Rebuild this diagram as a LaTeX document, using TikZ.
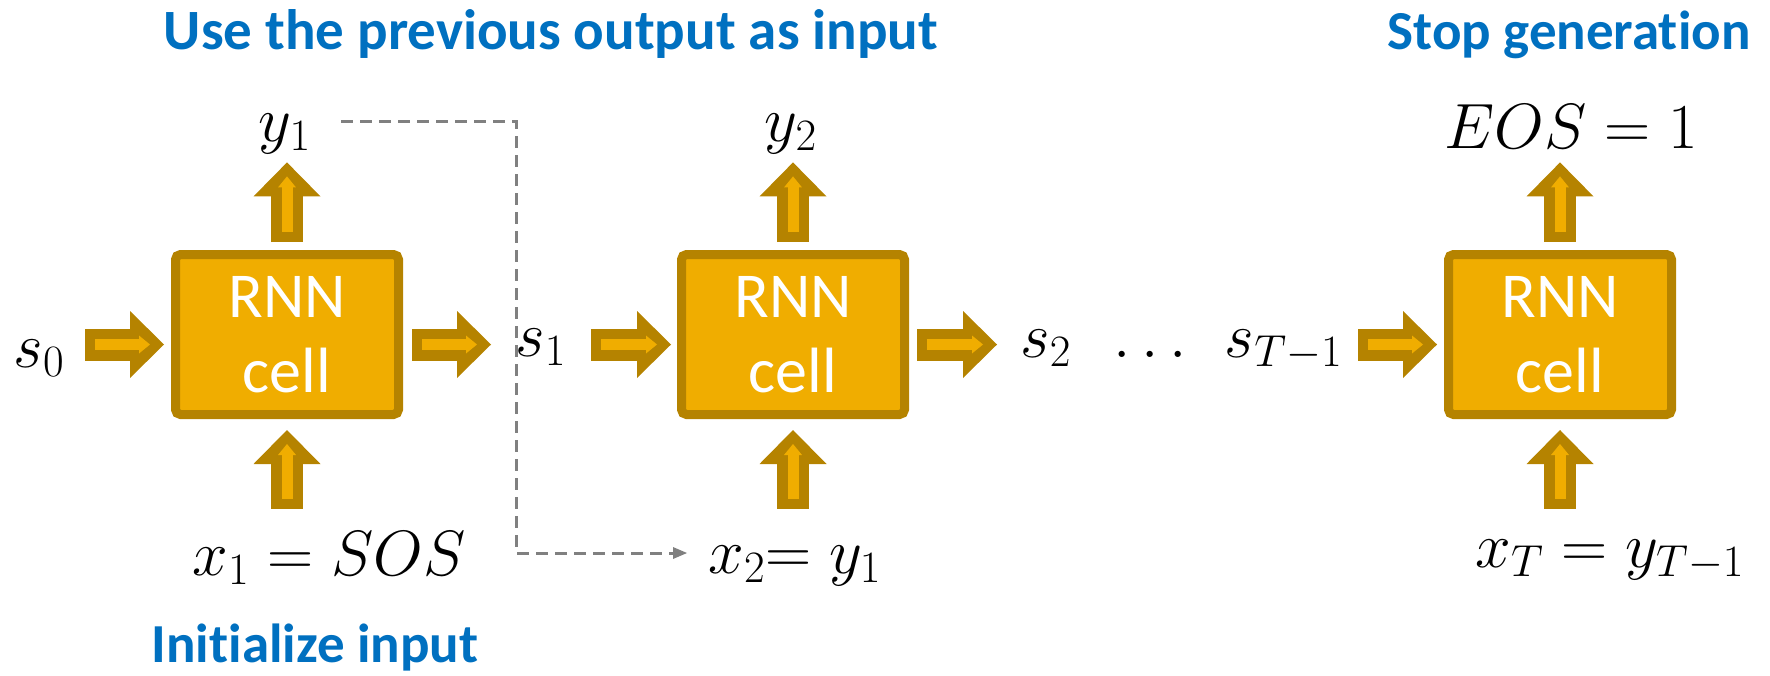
\RequirePackage{fix-cm}
\documentclass[tikz,border=0pt]{standalone}
\usepackage[no-math]{fontspec}
\newfontfamily\carlito{Carlito}[Ligatures=NoCommon]
\usetikzlibrary{arrows.meta}
\definecolor{cellfill}{HTML}{F0AD00}
\definecolor{cellline}{HTML}{B58300}
\definecolor{noteblue}{HTML}{0070C0}
\definecolor{dashgray}{HTML}{808080}
\begin{document}
\begin{tikzpicture}[x=0.5pt, y=-0.5pt]
        \tikzstyle{cell}=[rectangle, draw=cellline, fill=cellfill, line width=4.5pt, rounded corners=2.5pt,
            minimum width=111.5pt, minimum height=80pt, inner sep=0pt, align=center,
            text=white, font=\carlito\fontsize{32}{37.5}\selectfont]
        \tikzstyle{var}=[inner sep=0pt, text height=24pt, text depth=4pt, font=\fontsize{32}{38}\selectfont]
        \tikzstyle{note}=[inner sep=0pt, text=noteblue, font=\carlito\bfseries\fontsize{27.5}{33}\selectfont]
        \tikzstyle{fatout}=[draw=cellline, line width=16pt, -{Triangle[width=33.5pt, length=17pt, line width=0pt]}]
        \tikzstyle{fatin}=[draw=cellfill, line width=5.5pt, -{Triangle[width=9pt, length=5.5pt, line width=0pt]}]
        \tikzstyle{feedback}=[draw=dashgray, line width=1.5pt, dash pattern=on 6pt off 3.5pt,
            -{Triangle[width=6pt, length=7pt, line width=0pt]}]

        \useasboundingbox (0,0) rectangle (1770,675);

        % cells
        \node[cell] (cell1) at (287,334.5) {RNN\\cell};
        \node[cell] (cell2) at (793,334.5) {RNN\\cell};
        \node[cell] (cell3) at (1560,334.5) {RNN\\cell};

        % states, inputs and outputs
        \node[var, anchor=base east] (s0) at (65,367) {$s_0$};
        \node[var, anchor=base west] (s1) at (515,356) {$s_1$};
        \node[var, anchor=base west] (s2) at (1020,357) {$s_2$};
        \node[var, anchor=base] (dots) at (1150,357) {$\ldots$};
        \node[var, anchor=base east] (sT) at (1343,357) {$s_{T-1}$};
        \node[var, anchor=base] (y1) at (285,141) {$y_1$};
        \node[var, anchor=base] (y2) at (791,141) {$y_2$};
        \node[var, anchor=base] (eos) at (1571,148) {$EOS = 1$};
        \node[var, anchor=base] (x1) at (329,575) {$x_1 = SOS$};
        \node[var, anchor=base west] (x2) at (708,573) {$x_2{=}\;y_1$};
        \node[var, anchor=base] (xT) at (1610,567) {$x_T = y_{T-1}$};

        % notes
        \node[note, anchor=base, font=\carlito\bfseries\fontsize{28.5}{33}\selectfont] (prev) at (551,49) {Use the previous output as input};
        \node[note, anchor=base] (stop) at (1569,49) {Stop generation};
        \node[note, anchor=base] (init) at (315,662) {Initialize input};

        \coordinate (in1) at ([yshift=-5pt]cell1.west);
        \coordinate (out1) at ([yshift=-5pt]cell1.east);
        \coordinate (in2) at ([yshift=-5pt]cell2.west);
        \coordinate (out2) at ([yshift=-5pt]cell2.east);
        \coordinate (in3) at ([yshift=-5pt]cell3.west);
        \coordinate (bend) at (516,0);

        % state arrows
        \draw[fatout, shorten <=10pt, shorten >=3.5pt] (s0.east |- in1) -- (in1);
        \draw[fatin, shorten <=15pt, shorten >=10.5pt] (s0.east |- in1) -- (in1);
        \draw[fatout, shorten <=4.5pt, shorten >=12pt] (out1) -- (out1 -| s1.west);
        \draw[fatin, shorten <=9.5pt, shorten >=19pt] (out1) -- (out1 -| s1.west);
        \draw[fatout, shorten <=12pt, shorten >=3pt] (s1.east |- in2) -- (in2);
        \draw[fatin, shorten <=17pt, shorten >=10pt] (s1.east |- in2) -- (in2);
        \draw[fatout, shorten <=4pt, shorten >=11.5pt] (out2) -- (out2 -| s2.west);
        \draw[fatin, shorten <=9pt, shorten >=18.5pt] (out2) -- (out2 -| s2.west);
        \draw[fatout, shorten <=7.5pt, shorten >=3.5pt] (sT.east |- in3) -- (in3);
        \draw[fatin, shorten <=12.5pt, shorten >=10.5pt] (sT.east |- in3) -- (in3);

        % output arrows
        \draw[fatout, shorten <=4pt, shorten >=6.5pt] (cell1.north) -- (cell1.north |- y1.south);
        \draw[fatin, shorten <=9pt, shorten >=13.5pt] (cell1.north) -- (cell1.north |- y1.south);
        \draw[fatout, shorten <=4pt, shorten >=6.5pt] (cell2.north) -- (cell2.north |- y2.south);
        \draw[fatin, shorten <=9pt, shorten >=13.5pt] (cell2.north) -- (cell2.north |- y2.south);
        \draw[fatout, shorten <=4pt, shorten >=3pt] (cell3.north) -- (cell3.north |- eos.south);
        \draw[fatin, shorten <=9pt, shorten >=10pt] (cell3.north) -- (cell3.north |- eos.south);

        % input arrows
        \draw[fatout, shorten <=9pt, shorten >=5.5pt] (cell1.south |- x1.north) -- (cell1.south);
        \draw[fatin, shorten <=14pt, shorten >=12.5pt] (cell1.south |- x1.north) -- (cell1.south);
        \draw[fatout, shorten <=8pt, shorten >=5.5pt] (cell2.south |- x2.north) -- (cell2.south);
        \draw[fatin, shorten <=13pt, shorten >=12.5pt] (cell2.south |- x2.north) -- (cell2.south);
        \draw[fatout, shorten <=5pt, shorten >=5.5pt] (cell3.south |- xT.north) -- (cell3.south);
        \draw[fatin, shorten <=10pt, shorten >=12.5pt] (cell3.south |- xT.north) -- (cell3.south);

        % feed the output back in
        \draw[feedback, shorten <=15pt, shorten >=10.5pt] (y1.east) -- (y1.east -| bend) -- (bend |- x2.west) -- (x2.west);
    \end{tikzpicture}
\end{document}
